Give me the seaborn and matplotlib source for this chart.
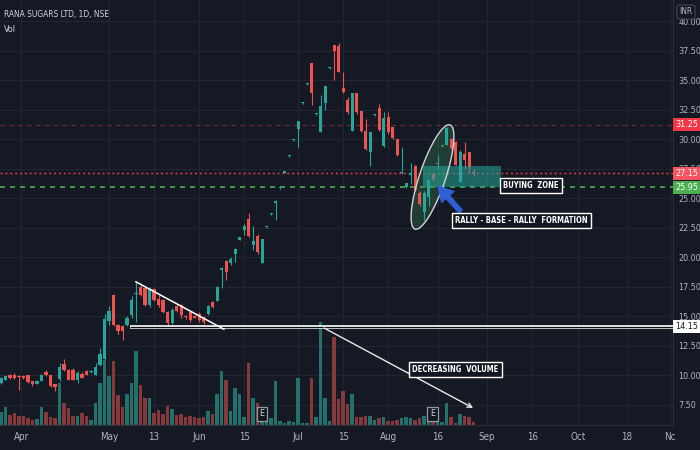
import numpy as np
import pandas as pd
import matplotlib
matplotlib.use("Agg")
import matplotlib.pyplot as plt
import seaborn as sns
from matplotlib.patches import Ellipse, Rectangle
from matplotlib.transforms import IdentityTransform, blended_transform_factory

# ---------------- data ----------------
opens = [9.4, 9.65, 10.0, 10.05, 9.95, 9.95, 10.0, 9.5, 9.3, 9.55,
         10.3, 10.0, 9.25, 9.7, 10.95, 10.5, 10.5, 9.65, 10.1, 10.4,
         10.3, 10.05, 10.85, 11.4, 14.6, 16.8, 14.3, 14.2, 14.3, 15.1,
         16.9, 17.5, 17.4, 16.0, 17.3, 16.5, 16.4, 15.4, 14.45, 15.9,
         16.0, 15.05, 15.4, 15.05, 15.2, 14.95, 15.2, 16.2, 16.35, 18.9,
         19.7, 19.5, 20.3, 21.5, 22.3, 23.3, 21.1, 21.8, 19.5, 22.55,
         23.65, 24.6, 25.85, 27.2, 28.6, 29.95, 30.9, 33.05, 34.7, 36.45,
         32.15, 30.6, 33.1, 36.05, 38.0, 37.9, 34.4, 33.35, 30.7, 33.9,
         32.4, 30.7, 28.9, 32.05, 32.7, 29.45, 31.9, 31.05, 30.0, 27.15,
         25.95, 27.0, 27.75, 25.5, 23.85, 25.1, 27.1, 27.9, 29.45, 29.5,
         30.05, 29.8, 26.4, 28.8, 28.9, 27.25]
highs = [9.9, 10.05, 10.1, 10.2, 10.0, 10.05, 10.05, 9.55, 9.6, 10.1,
         10.45, 10.05, 9.3, 11.1, 11.4, 10.55, 10.6, 10.4, 10.3, 10.5,
         10.5, 11.1, 12.3, 15.2, 15.9, 16.9, 14.4, 14.3, 15.0, 16.7,
         17.95, 17.7, 17.5, 17.5, 17.4, 16.8, 16.5, 15.5, 15.7, 16.0,
         16.1, 15.15, 15.5, 15.1, 15.4, 15.0, 16.0, 16.3, 17.6, 19.2,
         19.8, 20.0, 20.8, 21.75, 22.8, 23.8, 22.7, 22.0, 21.6, 22.65,
         23.75, 24.9, 25.95, 27.3, 28.7, 30.05, 31.6, 33.15, 34.8, 36.5,
         32.25, 33.8, 34.5, 36.15, 38.0, 38.2, 35.7, 33.6, 33.9, 33.9,
         32.4, 31.7, 30.6, 32.15, 33.0, 32.3, 32.3, 31.1, 30.0, 29.4,
         26.35, 28.0, 27.8, 25.6, 25.6, 26.6, 27.15, 28.7, 29.55, 31.1,
         30.1, 29.9, 29.1, 29.8, 28.9, 27.5]
lows = [9.3, 9.6, 9.7, 9.7, 8.8, 9.7, 9.4, 9.1, 9.25, 9.5,
        9.95, 9.0, 8.7, 9.5, 10.4, 9.6, 9.6, 9.4, 9.75, 10.0,
        10.25, 10.0, 10.8, 11.3, 14.3, 14.2, 13.5, 13.0, 14.2, 14.9,
        14.55, 16.7, 15.9, 15.8, 16.3, 15.8, 15.3, 14.1, 14.4, 15.4,
        14.9, 14.8, 14.5, 14.85, 14.5, 14.4, 15.1, 15.7, 16.3, 17.4,
        18.1, 19.4, 19.6, 21.45, 21.9, 21.7, 20.6, 20.3, 19.5, 22.5,
        23.6, 23.2, 25.8, 27.15, 28.55, 29.9, 29.4, 33.0, 34.65, 32.9,
        32.1, 30.6, 32.5, 36.0, 35.0, 35.7, 33.9, 32.2, 30.7, 32.2,
        30.6, 29.1, 27.75, 32.0, 30.7, 29.4, 30.5, 30.0, 28.6, 27.1,
        25.9, 26.2, 25.6, 24.4, 23.2, 24.4, 26.6, 27.5, 29.4, 29.5,
        29.2, 27.8, 26.4, 27.5, 27.2, 26.9]
closes = [9.8, 9.95, 9.75, 9.75, 9.85, 9.75, 9.45, 9.25, 9.55, 10.0,
          10.0, 9.1, 9.0, 10.75, 10.5, 9.65, 9.65, 10.2, 9.8, 10.05,
          10.4, 10.75, 11.85, 14.8, 15.5, 14.3, 13.75, 13.8, 14.85, 16.4,
          17.0, 16.8, 16.0, 17.3, 16.4, 16.0, 15.4, 14.45, 15.55, 15.5,
          15.15, 14.95, 14.7, 14.9, 14.7, 14.55, 15.85, 15.8, 17.5, 19.1,
          18.8, 19.9, 20.7, 21.7, 22.7, 21.8, 21.4, 20.5, 21.6, 22.6,
          23.7, 24.8, 25.9, 27.25, 28.65, 30.0, 31.6, 33.1, 34.75, 33.9,
          32.2, 32.8, 34.5, 36.1, 37.5, 35.75, 34.0, 32.3, 33.9, 32.3,
          30.7, 29.2, 30.6, 32.1, 30.8, 31.8, 30.6, 30.1, 28.7, 27.25,
          26.3, 27.2, 25.7, 24.5, 25.5, 26.55, 26.65, 28.0, 29.5, 31.0,
          29.3, 27.85, 28.95, 28.3, 27.7, 27.15]
volume_m = [1.3, 1.8, 1.0, 1.2, 0.9, 0.9, 0.7, 0.5, 0.6, 1.8,
            1.3, 0.8, 0.7, 4.2, 2.2, 1.7, 0.9, 0.9, 1.2, 0.9,
            0.5, 2.2, 4.2, 6.5, 4.9, 6.4, 3.0, 1.8, 3.1, 4.2,
            7.4, 4.0, 2.7, 2.7, 1.2, 1.5, 1.1, 1.9, 1.6, 1.0,
            1.1, 0.8, 0.9, 0.8, 0.7, 0.8, 1.4, 1.1, 3.1, 5.4,
            4.5, 1.4, 3.7, 3.1, 0.8, 6.2, 2.7, 2.2, 1.2, 0.3,
            0.7, 4.4, 0.4, 0.2, 0.4, 0.3, 4.7, 0.2, 0.2, 4.7,
            0.8, 10.3, 2.7, 0.4, 8.8, 2.6, 3.4, 2.1, 3.1, 0.8,
            0.8, 0.9, 0.9, 0.5, 0.7, 0.8, 0.4, 0.4, 0.5, 0.7,
            0.8, 0.7, 0.5, 0.7, 0.9, 0.6, 0.5, 0.3, 0.3, 2.2,
            0.8, 0.2, 1.1, 0.9, 0.8, 0.3]
tick_labels = ["Apr", "May", "13", "Jun", "15", "Jul", "15", "Aug", "16",
               "Sep", "16", "Oct", "18", "Nc"]
tick_bars = [4.5, 24, 34, 44, 54, 66, 76, 86, 97, 108, 118, 128.2, 139.1, 148.6]
price_ticks = [7.5, 10.0, 12.5, 15.0, 17.5, 20.0, 22.5, 25.0, 27.5, 30.0,
               32.5, 35.0, 37.5, 40.0]
last_price = 27.15
support_price = 25.95
high_marker = 31.25
base_line_price = 14.15

# ---------------- style ----------------
BG = "#151924"
GRID = "#222631"
TXT = "#b2b5be"
UP = "#26a69a"
DN = "#ef5350"
VOL_UP = "#22716c"
VOL_DN = "#85393b"

sns.set_theme(style="dark", rc={"axes.facecolor": BG, "figure.facecolor": BG,
                                "savefig.facecolor": BG})
plt.rcParams["font.family"] = ["DejaVu Sans"]
plt.rcParams["font.stretch"] = "condensed"

O = np.array(opens); H = np.array(highs); L = np.array(lows); C = np.array(closes)
n = len(O)
idx = np.arange(n)
up = C >= O

PLO, PHI = 5.805, 41.82
XLO, XHI = -0.22, 149.3
VTOP = 42.5


def px(x, y):
    """pixel position in the 700x450 picture -> (bar index, price)"""
    return (x - 1) / 4.5, 7.5 + (405 - y) / 11.8


fig = plt.figure(figsize=(7, 4.5), dpi=100)
rect = [0, 25 / 450, 673 / 700, 425 / 450]
axv = fig.add_axes(rect)
axv.set_zorder(1)
ax = fig.add_axes(rect, sharex=axv)
ax.set_zorder(2)
ax.patch.set_visible(False)

# grid (in the back axes)
for t in tick_bars:
    axv.axvline(t, color=GRID, lw=0.8, zorder=0)
for p in price_ticks:
    f = (p - PLO) / (PHI - PLO)
    axv.plot([0, 1], [f, f], transform=axv.transAxes, color=GRID, lw=0.8, zorder=0)

# volume with seaborn
df = pd.DataFrame({"bar": idx, "vol": volume_m,
                   "dir": np.where(up, "up", "down")})
sns.barplot(data=df, x="bar", y="vol", hue="dir", native_scale=True, dodge=False,
            palette={"up": VOL_UP, "down": VOL_DN}, width=0.8, errorbar=None,
            saturation=1, linewidth=0, legend=False, ax=axv)
axv.set_ylim(0, VTOP)
axv.set_xlabel(""); axv.set_ylabel("")
axv.tick_params(labelbottom=False, labelleft=False, left=False, bottom=False)
for s in axv.spines.values():
    s.set_visible(False)

# candles
cols = np.where(up, UP, DN)
ax.vlines(idx, L, H, colors=cols, lw=0.8, zorder=3)
body_lo = np.minimum(O, C)
body_h = np.maximum(np.abs(C - O), 0.12)
ax.bar(idx, body_h, bottom=body_lo, width=0.68, color=cols, linewidth=0, zorder=4)

# price lines
ax.axhline(high_marker, color="#f23645", alpha=0.45, lw=0.8, ls=(0, (4, 4)), zorder=2)
ax.axhline(last_price, color="#f23645", lw=1.0, ls=(0, (1.5, 2)), zorder=2)
ax.axhline(support_price, color="#4caf50", lw=1.2, ls=(0, (3, 3)), zorder=2)

# base line at 14.15
x0, _ = px(130, 0)
ax.plot([x0, XHI], [base_line_price, base_line_price], color="white", lw=2.6,
        zorder=5, solid_capstyle="butt")
ax.plot([x0, XHI], [base_line_price, base_line_price], color="#0b0e14", lw=0.9,
        zorder=6, solid_capstyle="butt")

# descending trend line over the flag
a = px(135.7, 281.7); b = px(224, 329.3)
ax.plot([a[0], b[0]], [a[1], b[1]], color="white", lw=1.1, zorder=6)

# decreasing volume arrow
a = px(324, 328); b = px(473, 408)
ax.annotate("", xy=b, xytext=a,
            arrowprops=dict(arrowstyle="->", color="#e8e8e8", lw=1.0,
                            mutation_scale=8, shrinkA=0, shrinkB=0), zorder=6)

# ellipse (rally-base-rally)
ell = Ellipse((432.5, 450 - 177), width=110, height=26, angle=71.4,
              transform=IdentityTransform(), facecolor="#3f8f55", alpha=0.3,
              edgecolor="none", zorder=2)
ax.add_patch(ell)
ell2 = Ellipse((432.5, 450 - 177), width=110, height=26, angle=71.4,
               transform=IdentityTransform(), facecolor="none",
               edgecolor="#d0d3d8", lw=1.0, zorder=6)
ax.add_patch(ell2)

# buying zone rectangle
r0 = px(423, 187); r1 = px(501, 166)
ax.add_patch(Rectangle((r0[0], r0[1]), r1[0] - r0[0], r1[1] - r0[1],
                       facecolor="#26a69a", alpha=0.55, edgecolor="none", zorder=5))

# blue arrow
ax.annotate("", xy=px(437, 185), xytext=px(461, 212),
            arrowprops=dict(arrowstyle="simple,head_width=1.1,head_length=1.0,tail_width=0.35",
                            fc="#2f5fd6", ec="none", mutation_scale=12,
                            shrinkA=0, shrinkB=0), zorder=7)

# labelled boxes
box = dict(boxstyle="square,pad=0.45", fc="#131722", ec="white", lw=1.0)
ax.text(*px(455, 369.5), "DECREASING  VOLUME", color="white", fontsize=5.5,
        fontweight="bold", ha="center", va="center", bbox=box, zorder=8)
ax.text(*px(531, 185.5), "BUYING  ZONE", color="white", fontsize=5.5,
        fontweight="bold", ha="center", va="center", bbox=box, zorder=8)
ax.text(*px(521.5, 220.5), "RALLY - BASE - RALLY  FORMATION", color="white",
        fontsize=5.5, fontweight="bold", ha="center", va="center", bbox=box, zorder=8)

# earnings markers
ebox = dict(boxstyle="square,pad=0.3", fc="#131722", ec="#9598a1", lw=0.9)
for ex in (262, 432.5):
    ax.text(*px(ex, 414), "E", color="#d1d4dc", fontsize=6.5, ha="center",
            va="center", bbox=ebox, zorder=8)

# axes, ticks
ax.set_xlim(XLO, XHI)
ax.set_ylim(PLO, PHI)
ax.set_xticks(tick_bars)
ax.set_xticklabels(tick_labels)
ax.set_yticks(price_ticks)
ax.set_yticklabels([f"{p:.2f}" for p in price_ticks])
ax.yaxis.tick_right()
ax.tick_params(axis="y", colors=TXT, labelsize=6.5, length=0, pad=4)
ax.tick_params(axis="x", colors=TXT, labelsize=7, length=0, pad=5)
ax.grid(False)
for k, s in ax.spines.items():
    s.set_visible(k in ("bottom", "right"))
    s.set_color("#2a2e39")
    s.set_linewidth(0.8)
ax.set_xlabel(""); ax.set_ylabel("")

# right axis price badges
tr = blended_transform_factory(ax.transAxes, ax.transData)
for val, fc, tc in ((high_marker, "#f23645", "white"), (last_price, "#f7525f", "white"),
                    (support_price, "#4caf50", "white"), (base_line_price, "white", "#131722")):
    ax.text(1.003, val, f"{val:.2f}", transform=tr, fontsize=6.5, color=tc,
            ha="left", va="center", zorder=9, clip_on=False,
            bbox=dict(boxstyle="square,pad=0.22", fc=fc, ec="none"))

# title / legend texts
fig.text(4 / 700, 1 - 15 / 450, "RANA SUGARS LTD, 1D, NSE", color="#d1d4dc",
         fontsize=6, ha="left", va="center")
fig.text(4 / 700, 1 - 29 / 450, "Vol", color="#d1d4dc", fontsize=6.5,
         ha="left", va="center")
fig.text(686 / 700, 1 - 12 / 450, "INR", color="#b2b5be", fontsize=6,
         ha="center", va="center",
         bbox=dict(boxstyle="round,pad=0.3", fc=BG, ec="#434651", lw=0.8))

fig.savefig("out.png", dpi=100)
